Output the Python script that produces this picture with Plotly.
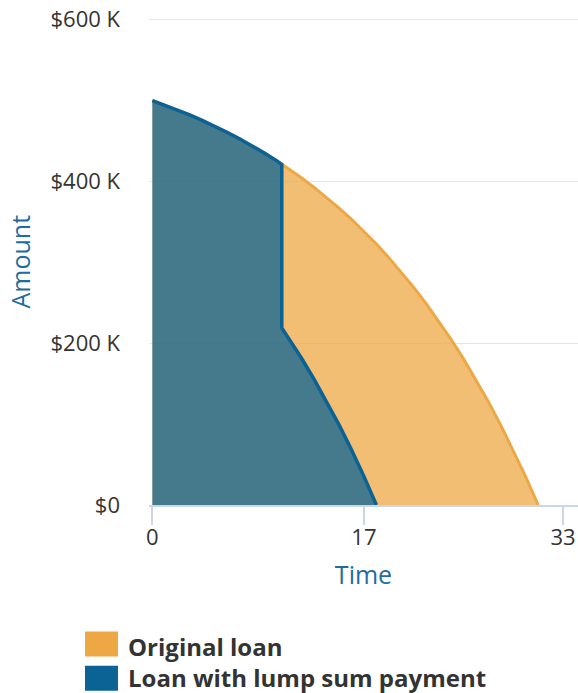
import plotly.graph_objects as go

# ---- data (values in $K, time in years) ----
orig_time = list(range(0, 32))
orig_balance = [500.0, 494.4, 488.5, 482.2, 475.5, 468.4, 460.8, 452.7, 444.2, 435.1,
                425.4, 415.1, 404.2, 392.6, 380.2, 367.1, 353.2, 338.3, 322.6, 305.8,
                288.0, 269.0, 248.9, 227.5, 204.8, 180.6, 154.9, 127.6, 98.5, 67.6,
                34.8, 0.0]

lump_time = [0, 1, 2, 3, 4, 5, 6, 7, 8, 9, 10, 10.4, 10.4, 11, 12, 13, 14, 15, 16, 17, 18]
lump_balance = [500.0, 494.4, 488.5, 482.2, 475.5, 468.4, 460.8, 452.7, 444.2, 435.1,
                425.4, 421.0, 219.0, 205.2, 181.1, 155.4, 128.1, 99.1, 68.2, 35.4, 0.0]

x_ticks = [0, 17, 33]
y_ticks = [0, 200, 400, 600]
y_tick_labels = ["$0", "$200 K", "$400 K", "$600 K"]

series_names = ["Original loan", "Loan with lump sum payment"]
orange = "rgb(237,168,69)"
blue = "rgb(11,98,148)"
title_blue = "rgb(30,108,160)"

FONT = "Open Sans"

fig = go.Figure()
fig.add_trace(go.Scatter(
    x=orig_time, y=[v * 1000 for v in orig_balance], mode="lines",
    name=series_names[0], fill="tozeroy",
    line=dict(color=orange, width=3), fillcolor="rgba(237,168,69,0.75)",
    showlegend=False, hoverinfo="skip"))
fig.add_trace(go.Scatter(
    x=lump_time, y=[v * 1000 for v in lump_balance], mode="lines",
    name=series_names[1], fill="tozeroy",
    line=dict(color=blue, width=3.5), fillcolor="rgba(11,98,148,0.75)",
    showlegend=False, hoverinfo="skip"))

# custom legend (swatches + labels) below the plot
legend_rows = [(-0.2598, -0.3113, -0.2907, orange), (-0.3299, -0.3814, -0.3536, blue)]
for (y0, y1, yt, col), name in zip(legend_rows, series_names):
    fig.add_shape(type="rect", xref="paper", yref="paper",
                  x0=-0.1492, x1=-0.0723, y0=y0, y1=y1,
                  fillcolor=col, line=dict(width=0))
    fig.add_annotation(xref="paper", yref="paper", x=-0.054, y=yt,
                       xanchor="left", yanchor="middle", showarrow=False,
                       text="<b>" + name + "</b>",
                       font=dict(family=FONT, size=24, color="#333333"))

# y-axis title
fig.add_annotation(xref="paper", yref="paper", x=-0.3007, y=0.5,
                   xanchor="center", yanchor="middle", showarrow=False,
                   textangle=-90, text="Amount",
                   font=dict(family=FONT, size=25, color=title_blue))

fig.update_layout(
    width=578, height=693,
    margin=dict(l=149, r=0, t=18, b=188),
    paper_bgcolor="white", plot_bgcolor="white",
    font=dict(family=FONT, size=20, color="#333333"),
    hovermode=False,
    xaxis=dict(
        range=[-0.27, 34.2], tickvals=x_ticks, ticktext=[str(t) for t in x_ticks],
        showgrid=False, zeroline=False,
        showline=True, linecolor="#ccd6eb", linewidth=2,
        ticks="outside", ticklen=18, tickcolor="#ccd6eb", tickwidth=2,
        ticklabelstandoff=-6, ticklabeloverflow="allow",
        tickfont=dict(family=FONT, size=22, color="#333333"),
        title=dict(text="Time", standoff=16,
                   font=dict(family=FONT, size=25, color=title_blue)),
    ),
    yaxis=dict(
        range=[0, 602000], tickvals=[v * 1000 for v in y_ticks], ticktext=y_tick_labels,
        showgrid=True, gridcolor="#e6e6e6", gridwidth=1,
        zeroline=False, showline=False, ticks="",
        ticklabelstandoff=28, ticklabeloverflow="allow",
        tickfont=dict(family=FONT, size=22, color="#333333"),
    ),
)

fig.write_html(
    "out.html",
    config={"displayModeBar": False, "staticPlot": True},
    post_script="document.body.style.margin='0';document.body.style.overflow='hidden';",
)
